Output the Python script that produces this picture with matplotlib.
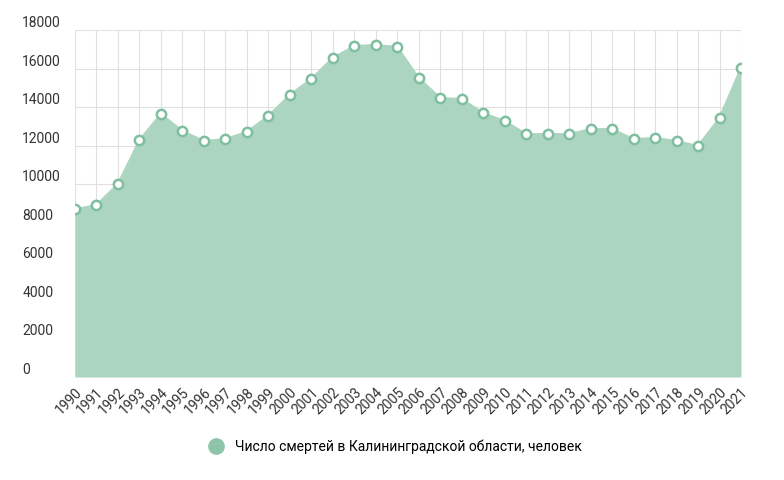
import matplotlib
matplotlib.use("Agg")
import matplotlib.pyplot as plt

plt.rcParams['font.family'] = ['Roboto', 'DejaVu Sans']

years = list(range(1990, 2022))
deaths = [8700, 8920, 10010, 12290, 13640, 12760, 12240, 12340, 12710, 13540,
          14630, 15460, 16550, 17170, 17220, 17120, 15510, 14470, 14420, 13690,
          13280, 12600, 12600, 12600, 12860, 12860, 12340, 12400, 12240, 11980,
          13430, 16030]
yticks = list(range(0, 18001, 2000))
label = "Число смертей в Калининградской области, человек"

fig = plt.figure(figsize=(7.84, 4.8), dpi=100)
ax = fig.add_axes([75/784, 1-377/480, (741-75)/784, (377-30)/480])
ax.fill_between(years, deaths, 0, color='#acd5c1', lw=0, zorder=2)
ax.plot(years, deaths, color='#acd5c1', lw=1.5, zorder=3)
ax.scatter(years, deaths, s=45, facecolor='white', edgecolor='#7fbf9f', lw=1.8, zorder=4)
ax.set_xlim(1990, 2021)
ax.set_ylim(0, 18000)
ax.set_xticks(years)
ax.set_xticklabels([str(y) for y in years], rotation=45, ha='right', rotation_mode='anchor', fontsize=10, color='#333333')
ax.set_yticks(yticks)
ax.set_yticklabels([str(v) for v in yticks], fontsize=10, color='#333333')
for lab in ax.get_yticklabels():
    lab.set_horizontalalignment('left')
    lab.set_verticalalignment('bottom')
ax.tick_params(axis='y', length=0, pad=38)
ax.tick_params(axis='x', length=0, pad=6)
ax.grid(True, color='#e0e0e0', lw=0.8, zorder=0)
ax.set_axisbelow(True)
for s in ax.spines.values():
    s.set_visible(False)

fig.legend(handles=[plt.Line2D([], [], marker='o', ls='', markersize=11, color='#8ec5a9')],
           labels=[label], loc='center', bbox_to_anchor=(0.5, 1-447/480), frameon=False,
           fontsize=10, handletextpad=0.4)
fig.savefig('out.png', dpi=100)
